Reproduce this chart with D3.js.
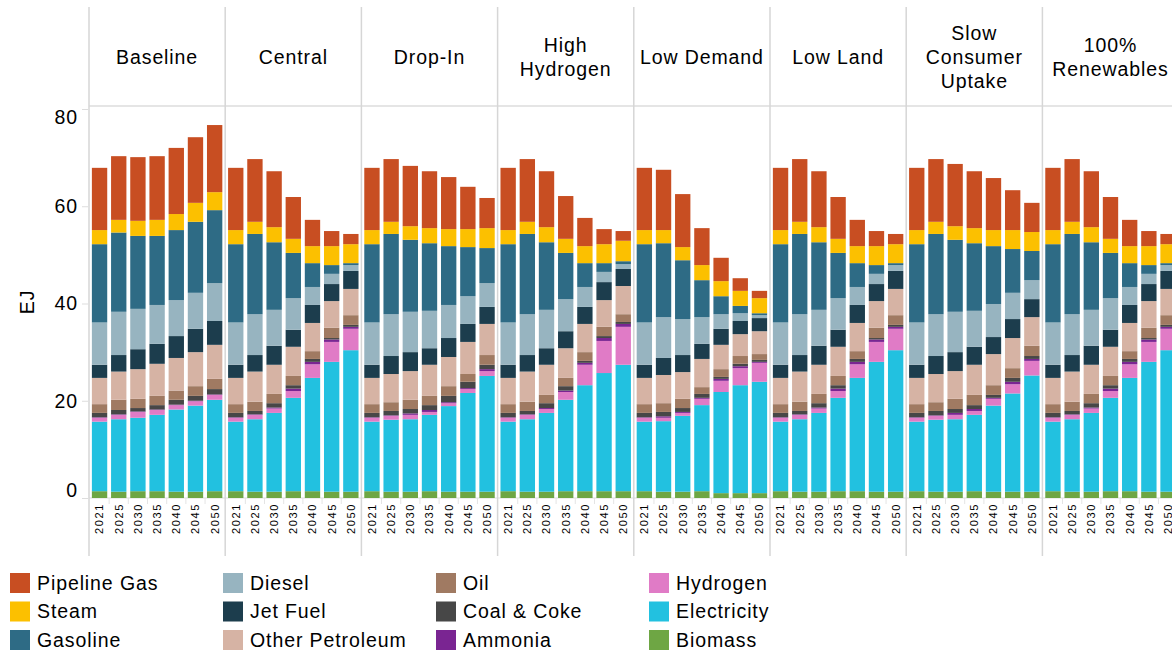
<!DOCTYPE html>
<html>
<head>
<meta charset="utf-8">
<script src="https://cdn.jsdelivr.net/npm/d3@7"></script>
<style>
  body { margin: 0; background: #fff; }
  text { font-family: "Liberation Sans", Arial, sans-serif; fill: #000; letter-spacing: 0.9px; }
</style>
</head>
<body>
<svg id="chart"></svg>
<script>
// years on each facet's x axis
var years = ["2021", "2025", "2030", "2035", "2040", "2045", "2050"];

// stack order, bottom to top
var categories = ["Biomass", "Electricity", "Hydrogen", "Ammonia", "Coal & Coke", "Oil",
  "Other Petroleum", "Jet Fuel", "Diesel", "Gasoline", "Steam", "Pipeline Gas"];
var colors = ["#6ea644", "#22c1e0", "#e07bc6", "#7a2592", "#474747", "#a07a62",
  "#d6b3a4", "#1c3d4d", "#97b4c0", "#2e6b85", "#fcc000", "#c84e22"];

var scenarios = ["Baseline", "Central", "Drop-In", "High Hydrogen", "Low Demand",
  "Low Land", "Slow Consumer Uptake", "100% Renewables"];
var headerLines = [["Baseline"], ["Central"], ["Drop-In"], ["High", "Hydrogen"], ["Low Demand"],
  ["Low Land"], ["Slow", "Consumer", "Uptake"], ["100%", "Renewables"]];

var yTicks = [0, 20, 40, 60, 80];

// EJ by year (rows) and category (columns, same order as categories)
var baseline = [
  [1.4, 14.3, 0.8, 0.1, 0.9, 1.8, 5.4, 2.7, 8.7, 16.1, 2.9, 12.8],
  [1.3, 14.9, 0.9, 0.1, 0.9, 2.1, 5.8, 3.4, 8.9, 16.3, 2.6, 13.1],
  [1.4, 15.1, 1.2, 0.1, 0.7, 1.9, 6.1, 4.1, 8.3, 15.0, 3.1, 13.1],
  [1.4, 15.7, 1.0, 0.1, 0.9, 1.9, 6.6, 4.1, 8.0, 14.2, 3.3, 13.1],
  [1.3, 16.9, 0.9, 0.1, 1.0, 1.9, 6.7, 4.5, 7.4, 14.4, 3.3, 13.6],
  [1.3, 17.7, 0.9, 0.1, 1.0, 2.0, 7.0, 4.8, 7.4, 14.6, 3.9, 13.5],
  [1.4, 18.8, 1.0, 0.1, 1.1, 2.1, 7.0, 4.9, 7.8, 15.0, 3.7, 13.8]
];
var central = [
  [1.4, 14.3, 0.8, 0.1, 0.9, 1.8, 5.4, 2.7, 8.7, 16.1, 2.9, 12.8],
  [1.3, 14.9, 0.9, 0.1, 0.7, 1.9, 6.2, 3.4, 8.4, 16.5, 2.5, 12.9],
  [1.3, 16.2, 0.9, 0.2, 0.9, 1.9, 6.0, 3.9, 7.4, 13.9, 3.1, 11.5],
  [1.4, 19.2, 1.4, 0.5, 0.7, 1.9, 6.0, 3.5, 6.5, 9.3, 2.9, 8.6],
  [1.4, 23.3, 2.8, 0.5, 0.6, 1.6, 5.8, 3.7, 3.7, 4.9, 3.5, 5.4],
  [1.3, 26.7, 4.1, 0.5, 0.3, 2.1, 5.5, 3.5, 2.1, 1.8, 3.9, 3.1],
  [1.3, 29.1, 4.4, 0.4, 0.4, 2.0, 5.4, 3.7, 1.2, 0.4, 3.9, 2.1]
];
var dropIn = [
  [1.4, 14.3, 0.8, 0.1, 0.9, 1.8, 5.4, 2.7, 8.7, 16.1, 2.9, 12.8],
  [1.3, 14.8, 0.8, 0.1, 0.9, 1.8, 5.8, 3.7, 8.6, 16.5, 2.5, 12.9],
  [1.3, 14.9, 0.9, 0.3, 0.9, 1.9, 5.9, 3.9, 8.3, 14.8, 2.8, 12.4],
  [1.4, 15.7, 0.6, 0.4, 1.0, 1.9, 6.4, 3.4, 7.7, 13.9, 3.1, 11.7],
  [1.3, 17.6, 0.6, 0.2, 1.3, 2.0, 6.0, 3.9, 6.8, 12.1, 3.5, 10.7],
  [1.3, 20.3, 0.8, 0.2, 1.3, 1.6, 6.6, 3.7, 5.7, 10.1, 3.7, 8.7],
  [1.3, 23.8, 1.0, 0.4, 0.9, 2.0, 6.4, 3.5, 4.9, 7.2, 4.1, 6.2]
];
var highHydrogen = [
  [1.4, 14.3, 0.8, 0.1, 0.9, 1.8, 5.4, 2.7, 8.7, 16.1, 2.9, 12.8],
  [1.3, 14.9, 0.9, 0.1, 0.7, 1.9, 6.2, 3.4, 8.4, 16.5, 2.5, 12.9],
  [1.3, 16.2, 0.8, 0.2, 1.0, 1.7, 6.2, 3.4, 7.9, 13.9, 3.1, 11.5],
  [1.4, 18.8, 1.6, 0.3, 0.9, 1.7, 6.1, 3.5, 6.6, 9.5, 2.9, 8.8],
  [1.4, 21.8, 4.2, 0.4, 0.4, 1.8, 5.8, 3.5, 4.1, 4.9, 3.5, 5.8],
  [1.4, 24.3, 6.6, 0.6, 0.4, 1.9, 5.5, 3.7, 2.1, 1.8, 3.9, 3.1],
  [1.4, 26.0, 7.8, 0.6, 0.4, 1.6, 5.8, 3.5, 1.0, 0.6, 4.2, 2.0]
];
var lowDemand = [
  [1.4, 14.3, 0.8, 0.1, 0.9, 1.8, 5.4, 2.7, 8.7, 16.1, 2.9, 12.8],
  [1.3, 14.5, 0.7, 0.3, 0.9, 1.8, 5.8, 3.5, 8.4, 15.2, 2.7, 12.4],
  [1.3, 15.6, 0.6, 0.2, 0.8, 1.9, 5.5, 3.5, 7.4, 12.1, 2.7, 10.9],
  [1.4, 17.7, 1.3, 0.2, 0.8, 1.4, 5.8, 3.1, 5.5, 7.6, 3.1, 7.6],
  [1.0, 20.8, 2.3, 0.4, 0.4, 1.6, 5.0, 3.3, 3.0, 3.7, 3.1, 4.8],
  [1.0, 22.2, 3.5, 0.4, 0.5, 1.6, 4.5, 2.7, 1.6, 1.5, 3.1, 2.6],
  [1.0, 22.9, 3.9, 0.2, 0.4, 1.2, 4.7, 2.7, 0.6, 0.4, 3.1, 1.5]
];
var lowLand = [
  [1.4, 14.3, 0.8, 0.1, 0.9, 1.8, 5.4, 2.7, 8.7, 16.1, 2.9, 12.8],
  [1.3, 14.9, 0.9, 0.1, 0.7, 1.9, 6.2, 3.4, 8.4, 16.5, 2.5, 12.9],
  [1.3, 16.2, 0.9, 0.2, 0.9, 1.9, 6.0, 3.9, 7.4, 13.9, 3.1, 11.5],
  [1.4, 19.2, 1.4, 0.5, 0.7, 1.9, 6.0, 3.5, 6.5, 9.3, 2.9, 8.6],
  [1.4, 23.3, 2.8, 0.5, 0.6, 1.6, 5.8, 3.7, 3.7, 4.9, 3.5, 5.4],
  [1.3, 26.7, 4.1, 0.5, 0.3, 2.1, 5.5, 3.5, 2.1, 1.8, 3.9, 3.1],
  [1.3, 29.1, 4.4, 0.4, 0.4, 2.0, 5.4, 3.7, 1.2, 0.4, 3.9, 2.1]
];
var slowUptake = [
  [1.4, 14.3, 0.8, 0.1, 0.9, 1.8, 5.4, 2.7, 8.7, 16.1, 2.9, 12.8],
  [1.3, 14.8, 0.8, 0.1, 0.9, 1.8, 5.8, 3.7, 8.6, 16.5, 2.5, 12.9],
  [1.3, 14.9, 0.9, 0.4, 0.8, 2.1, 5.7, 3.9, 8.3, 14.8, 2.8, 12.8],
  [1.4, 15.7, 0.8, 0.4, 0.8, 2.1, 6.2, 3.7, 7.4, 13.9, 3.1, 11.7],
  [1.3, 17.7, 1.4, 0.2, 0.6, 2.0, 6.4, 3.5, 6.8, 11.9, 3.3, 10.7],
  [1.3, 20.2, 1.9, 0.5, 0.8, 2.0, 6.2, 3.9, 5.4, 9.0, 3.9, 8.2],
  [1.3, 23.9, 3.0, 0.4, 0.6, 2.1, 5.9, 3.7, 3.9, 6.0, 3.9, 6.0]
];
var renewables100 = [
  [1.4, 14.3, 0.8, 0.1, 0.9, 1.8, 5.4, 2.7, 8.7, 16.1, 2.9, 12.8],
  [1.3, 14.9, 0.9, 0.1, 0.7, 1.9, 6.2, 3.4, 8.4, 16.5, 2.5, 12.9],
  [1.3, 16.2, 0.9, 0.2, 0.9, 1.9, 6.0, 3.9, 7.4, 13.9, 3.1, 11.5],
  [1.4, 19.2, 1.4, 0.5, 0.7, 1.9, 6.0, 3.5, 6.5, 9.3, 2.9, 8.6],
  [1.4, 23.3, 2.8, 0.5, 0.6, 1.6, 5.8, 3.7, 3.7, 4.9, 3.5, 5.4],
  [1.3, 26.7, 4.1, 0.5, 0.3, 2.1, 5.5, 3.5, 2.1, 1.8, 3.9, 3.1],
  [1.3, 29.1, 4.4, 0.4, 0.4, 2.0, 5.4, 3.7, 1.2, 0.4, 3.9, 2.1]
];
var scenarioData = [baseline, central, dropIn, highHydrogen, lowDemand, lowLand, slowUptake, renewables100];

// layout
var width = 1172, height = 654;
var facetLeft = 89, facetW = 136.2;
var plotTop = 106, y0px = 498, y80px = 109;

var svg = d3.select("#chart").attr("width", width).attr("height", height);

var y = d3.scaleLinear().domain([0, 80]).range([y0px, y80px]);
var x = d3.scaleBand().domain(years).range([0, facetW]).paddingInner(0.2).paddingOuter(0.15);
var fx = d3.scaleBand().domain(scenarios).range([facetLeft, facetLeft + facetW * scenarios.length]);
var color = d3.scaleOrdinal().domain(categories).range(colors);

var stack = d3.stack().keys(categories);

// y axis
var yAxis = svg.append("g").attr("transform", "translate(" + (facetLeft - 1) + ",0)")
  .call(d3.axisLeft(y).tickValues(yTicks).tickSize(6).tickPadding(4));
yAxis.select(".domain").remove();
yAxis.selectAll(".tick line").attr("stroke", "#ddd");
yAxis.selectAll(".tick text").style("font-size", "19.5px");
yAxis.selectAll(".tick").filter(function(d) { return d === 80; }).select("text").attr("dy", "0.75em");
yAxis.selectAll(".tick").filter(function(d) { return d === 0; }).select("text").attr("dy", "-0.1em");

svg.append("text")
  .attr("transform", "translate(34," + ((y0px + plotTop) / 2) + ") rotate(-90)")
  .attr("text-anchor", "middle")
  .style("font-size", "19.5px")
  .text("EJ");

// header bottom line and x baseline
svg.append("line").attr("x1", facetLeft).attr("x2", width)
  .attr("y1", plotTop).attr("y2", plotTop).attr("stroke", "#ddd").attr("stroke-width", 1.5);
svg.append("line").attr("x1", facetLeft).attr("x2", width)
  .attr("y1", y0px).attr("y2", y0px).attr("stroke", "#ddd").attr("stroke-width", 1);

scenarios.forEach(function(s, i) {
  var g = svg.append("g").attr("transform", "translate(" + fx(s) + ",0)");
  var rows = scenarioData[i].map(function(r, j) {
    var o = { year: years[j] };
    categories.forEach(function(c, k) { o[c] = r[k]; });
    return o;
  });
  var series = stack(rows);

  g.selectAll("g.layer").data(series).enter().append("g")
    .attr("class", "layer")
    .attr("fill", function(d) { return color(d.key); })
    .selectAll("rect").data(function(d) { return d; }).enter().append("rect")
      .attr("x", function(d) { return x(d.data.year); })
      .attr("width", x.bandwidth())
      .attr("y", function(d) { return y(d[1]); })
      .attr("height", function(d) { return y(d[0]) - y(d[1]); });

  // x axis
  var xa = g.append("g").attr("transform", "translate(0," + y0px + ")")
    .call(d3.axisBottom(x).tickSize(0).tickPadding(0));
  xa.select(".domain").remove();
  xa.selectAll(".tick text")
    .attr("transform", "rotate(-90)")
    .attr("text-anchor", "end")
    .attr("x", -5).attr("y", 0).attr("dy", "0.35em")
    .style("font-size", "11px")
    .style("letter-spacing", "1.6px");
  xa.selectAll(".sep").data(years.slice(1)).enter().append("line")
    .attr("x1", function(d) { return x(d) - x.step() * x.paddingInner() / 2; })
    .attr("x2", function(d) { return x(d) - x.step() * x.paddingInner() / 2; })
    .attr("y1", 0).attr("y2", 6).attr("stroke", "#e4e4e4");

  // facet separator line
  g.append("line").attr("x1", 0).attr("x2", 0).attr("y1", 7).attr("y2", 556)
    .attr("stroke", "#d6d6d6").attr("stroke-width", 1.5);

  // header
  var lines = headerLines[i];
  var hy = (7 + plotTop) / 2 + 1 - (lines.length - 1) * 12;
  g.append("text")
    .attr("text-anchor", "middle")
    .style("font-size", "19.5px")
    .selectAll("tspan").data(lines).enter().append("tspan")
      .attr("x", facetW / 2)
      .attr("y", function(d, k) { return hy + k * 24; })
      .attr("dy", "0.35em")
      .text(function(d) { return d; });
});

// legend, top of stack first, filled column by column
var legendItems = categories.slice().reverse();
var legend = svg.append("g");
var li = legend.selectAll("g").data(legendItems).enter().append("g")
  .attr("transform", function(d, i) {
    return "translate(" + (10 + Math.floor(i / 3) * 213) + "," + (583 + (i % 3) * 28.5) + ")";
  });
li.append("rect").attr("x", 0).attr("y", -10).attr("width", 20).attr("height", 20)
  .attr("fill", function(d) { return color(d); });
li.append("text").attr("x", 27).attr("y", 0).attr("dy", "0.35em")
  .style("font-size", "19.5px")
  .text(function(d) { return d; });
</script>
</body>
</html>
